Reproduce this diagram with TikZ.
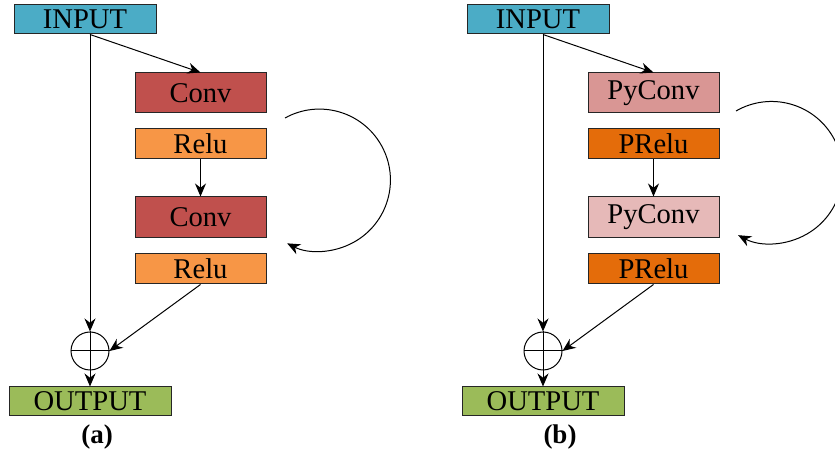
\documentclass[tikz,border=0pt]{standalone}
\usepackage{fontspec}
\setmainfont{Liberation Serif}
\usetikzlibrary{arrows.meta}

\definecolor{inputblue}{HTML}{4BACC6}
\definecolor{convred}{HTML}{C0504D}
\definecolor{reluorange}{HTML}{F79646}
\definecolor{outgreen}{HTML}{9BBB59}
\definecolor{pyconvpink}{HTML}{D99694}
\definecolor{pyconvlight}{HTML}{E6B9B8}
\definecolor{preluorange}{HTML}{E46C0A}

\tikzset{
    block/.style={draw=black!85, line width=0.5pt, inner sep=0pt,
        minimum width=65.5pt, font=\fontsize{14.3}{17}\selectfont},
    arr/.style={-{Stealth[length=6.5pt, width=5.5pt]}, line width=0.5pt},
    plus/.style={draw, circle, line width=0.5pt, minimum size=19pt, inner sep=0pt},
    caption/.style={font=\fontsize{13.5}{16}\selectfont\bfseries}
}

\begin{document}
\begin{tikzpicture}[x=0.5pt, y=-0.5pt]

    % --- Page frame (reference proportions) ---
    \useasboundingbox (0,0) rectangle (835,453);

    % --- Panel (a): residual block ---
    \node[block, fill=inputblue, minimum width=71pt, minimum height=14.5pt] (in_a) at (85,19.5) {INPUT};
    \node[block, fill=convred, minimum height=20pt] (conv1_a) at (200.5,93) {Conv};
    \node[block, fill=reluorange, minimum height=15pt] (relu1_a) at (200.5,144) {Relu};
    \node[block, fill=convred, minimum height=20.5pt] (conv2_a) at (200.5,217.5) {Conv};
    \node[block, fill=reluorange, minimum height=15pt] (relu2_a) at (200.5,269) {Relu};
    \node[plus] (sum_a) at (90,351) {};
    \node[block, fill=outgreen, minimum width=81pt, minimum height=14.5pt] (out_a) at (90,401.5) {OUTPUT};
    \node[caption] (cap_a) at (97,437) {(a)};

    % skip path and main path
    \draw[arr] (in_a.south -| sum_a) -- (sum_a.north);
    \draw[arr] (in_a.south -| sum_a) -- (conv1_a.north);
    \draw[arr] (relu1_a.south) -- (conv2_a.north);
    \draw[arr] (relu2_a.south) -- (sum_a.east);
    \draw[arr] (sum_a.north) -- (out_a.north);
    \draw[line width=0.5pt] (sum_a.west) -- (sum_a.east);

    % repeated twice
    \coordinate (loop_a) at (285,118);
    \draw[arr] (loop_a) arc[start angle=-119, end angle=117, radius=71];

    % --- Panel (b): PyConv block ---
    \node[block, fill=inputblue, minimum width=71pt, minimum height=14.5pt] (in_b) at (538,19.5) {INPUT};
    \node[block, fill=pyconvpink, minimum height=20pt] (conv1_b) at (653.5,93) {PyConv};
    \node[block, fill=preluorange, minimum height=15pt] (relu1_b) at (653.5,144) {PRelu};
    \node[block, fill=pyconvlight, minimum height=20.5pt] (conv2_b) at (653.5,217.5) {PyConv};
    \node[block, fill=preluorange, minimum height=15pt] (relu2_b) at (653.5,269) {PRelu};
    \node[plus] (sum_b) at (543,351) {};
    \node[block, fill=outgreen, minimum width=81pt, minimum height=14.5pt] (out_b) at (543,401.5) {OUTPUT};
    \node[caption] (cap_b) at (560,437) {(b)};

    \draw[arr] (in_b.south -| sum_b) -- (sum_b.north);
    \draw[arr] (in_b.south -| sum_b) -- (conv1_b.north);
    \draw[arr] (relu1_b.south) -- (conv2_b.north);
    \draw[arr] (relu2_b.south) -- (sum_b.east);
    \draw[arr] (sum_b.north) -- (out_b.north);
    \draw[line width=0.5pt] (sum_b.west) -- (sum_b.east);

    \coordinate (loop_b) at (736,111);
    \draw[arr] (loop_b) arc[start angle=-120, end angle=118, radius=71];

\end{tikzpicture}
\end{document}
